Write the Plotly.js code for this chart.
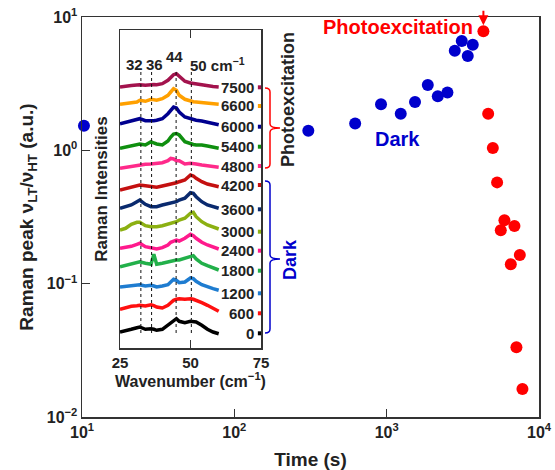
<!DOCTYPE html>
<html>
<head>
<meta charset="utf-8">
<script src="https://cdn.plot.ly/plotly-3.0.1.min.js"></script>
<style>
html,body{margin:0;padding:0;background:#fff;}
#chart{width:555px;height:470px;}
</style>
</head>
<body>
<div id="chart"></div>
<script>
// ---------- main plot data ----------
const darkTime  = [10.3, 306, 621, 918, 1237, 1535, 1862, 2166, 2506, 2800, 3112, 3406, 3675];
const darkRatio = [1.53, 1.40, 1.59, 2.22, 1.88, 2.30, 3.09, 2.54, 2.72, 5.59, 6.61, 5.10, 6.20];
const photoTime  = [4315, 4638, 4977, 5309, 5611, 5930, 6530, 6900, 7110, 7482, 7785];
const photoRatio = [7.81, 1.88, 1.04, 0.575, 0.252, 0.299, 0.140, 0.271, 0.0333, 0.164, 0.0162];

const xTickVals = [10, 100, 1000, 10000];
const xTickText = ['10<sup>1</sup>', '10<sup>2</sup>', '10<sup>3</sup>', '10<sup>4</sup>'];
const yTickVals = [0.01, 0.1, 1, 10];
const yTickText = ['10<sup>\u22122</sup>', '10<sup>\u22121</sup>', '10<sup>0</sup>', '10<sup>1</sup>'];

// ---------- inset data (stacked spectra, a.u.) ----------
const wavenumber = [25,27,29,31,32,34,36,37,38,40,42,43,44,45,46,48,50,51,52,54,56,58,60];
const specLabels = ['0','600','1200','1800','2400','3000','3600','4200','4800','5400','6000','6600','7500'];
const specOffsets = [14.7, 34.7, 54.7, 77.3, 97.3, 116.3, 138.7, 163, 182, 201.3, 221.3, 242, 260.7];
const spec0    = [16,17,18.7,20.3,21,18.7,19.3,18.7,17.7,18.7,22.7,25.3,27.7,29.3,26.7,25.3,26.7,26.7,26,22.7,18.7,16,14.3];
const spec600  = [38.7,40.3,41.7,42.3,42.7,42,43.3,42.3,41,40,42.7,45.3,47.7,48.7,49.3,48.7,49.3,48.7,47.7,45.3,42.7,40,36.7];
const spec1200 = [61,61.7,62.3,63,63.3,62,62.7,62,61,62,63.3,66,68.7,67.7,65.3,66,70,69.3,66.7,63.3,61,59.3,57.7];
const spec1800 = [81.3,82.7,84,85.7,86.3,84.7,83.7,93.7,83.7,84.7,86.3,87,88,88,88,89.7,91.3,92.3,89,84.7,82.3,80.3,78];
const spec2400 = [99.7,100.7,101.7,103.7,104.7,101.3,100.3,99.7,99,100.3,103,105.7,107,108,107,109.7,113.7,112.3,109.7,105.7,103,101,99];
const spec3000 = [118,119.7,123.7,125.7,125.7,122.3,121.3,121.3,121.3,122.3,123.7,124.7,125.7,126.3,128,129.7,134.7,135.7,131.3,126.3,123,121,119];
const spec3600 = [139.7,141.3,143,146.3,148,143.7,141.3,141.3,141.3,143,144,144.7,145.3,146.3,148,149.7,155.3,154.7,151.3,146.3,143,141.3,139.7];
const spec4200 = [158,159.3,160.3,162,163,162.3,161.3,161,160.7,162,163,163.7,164.7,165.3,166.3,168,173,172,169.7,166.3,164,162.7,161.3];
const spec4800 = [179.7,180.7,181.7,182.3,183,183.7,184,184.3,184.7,185.3,187.3,189.7,189,187.3,187.3,184,184.7,184.5,184,183,182.3,181.3,180.7];
const spec5400 = [199.7,201,201.7,203,204,203,206.3,205,204,203,207,211,214,214.5,213,206.3,204,203.5,203,203,202,201,199.7];
const spec6000 = [224.3,225.7,226.3,228,229.3,227.3,227,227.3,227.7,229.3,234.3,237.7,241,240,236,231,229.3,228.7,227.7,227,226,224.7,223.3];
const spec6600 = [243.7,244.5,245,246,247.7,246.7,248.7,248.2,247.7,249.3,252.7,256,259.3,257.7,252.7,248.7,246.7,246.3,246,245.5,245,244.3,243.7];
const spec7500 = [261,262,262.5,263,263.3,262.7,263.7,263.5,263.3,264.3,267.7,270.5,273.3,274.3,272,266.7,265,264.5,263.7,263,262.3,261.5,261];
const specColors = ['#000000','#ff1010','#1e7cd0','#22b04a','#ff1a8c','#8cb012','#0a2a6e','#c41010','#ff2a8a','#0f8f0f','#00008f','#ffa000','#a3134d'];
const peakLines = [32.4, 36.2, 44.9, 50.3];
const insetXTicks = [25, 50, 75];

const spectra = [spec0, spec600, spec1200, spec1800, spec2400, spec3000, spec3600, spec4200, spec4800, spec5400, spec6000, spec6600, spec7500];

// ---------- geometry helpers (pixel -> paper) ----------
const L = 82, R = 539, T = 17, B = 417;
const W = R - L, H = B - T;
const px = x => (x - L) / W;
const py = y => (B - y) / H;

const FONT = 'Liberation Sans, Arial, sans-serif';
const TXT = '#222222';

const traces = [];
traces.push({
  x: darkTime, y: darkRatio, type: 'scatter', mode: 'markers', name: 'Dark',
  marker: {color: '#0000cc', size: 12}, cliponaxis: false, xaxis: 'x', yaxis: 'y'
});
traces.push({
  x: photoTime, y: photoRatio, type: 'scatter', mode: 'markers', name: 'Photoexcitation',
  marker: {color: '#ff0000', size: 12}, cliponaxis: false, xaxis: 'x', yaxis: 'y'
});
spectra.forEach((s, i) => {
  traces.push({
    x: wavenumber, y: s, type: 'scatter', mode: 'lines', name: specLabels[i] + ' s',
    line: {color: specColors[i], width: 3.5}, xaxis: 'x2', yaxis: 'y2'
  });
});
traces.push({
  x: specOffsets.map(() => 74.6), y: specOffsets, type: 'scatter', mode: 'markers',
  marker: {symbol: 'square', size: 4, color: specColors}, xaxis: 'x2', yaxis: 'y2',
  cliponaxis: false, hoverinfo: 'skip'
});

function brace(x0, xm, xt, yTop, yTip, yBot) {
  const r = 4;
  const pts = [
    `M ${px(x0)},${py(yTop)}`,
    `Q ${px(xm)},${py(yTop)} ${px(xm)},${py(yTop + r)}`,
    `L ${px(xm)},${py(yTip - r)}`,
    `Q ${px(xm)},${py(yTip)} ${px(xt)},${py(yTip)}`,
    `Q ${px(xm)},${py(yTip)} ${px(xm)},${py(yTip + r)}`,
    `L ${px(xm)},${py(yBot - r)}`,
    `Q ${px(xm)},${py(yBot)} ${px(x0)},${py(yBot)}`
  ];
  return pts.join(' ');
}

const shapes = [];
peakLines.forEach(w => {
  shapes.push({type: 'line', xref: 'x2', yref: 'y2', x0: w, x1: w, y0: 15, y1: 278,
    line: {color: '#111', width: 1, dash: 'dot'}});
});
shapes.push({type: 'path', xref: 'paper', yref: 'paper', path: brace(265, 270, 280, 88, 128, 168),
  line: {color: '#ff0000', width: 1.5}});
shapes.push({type: 'path', xref: 'paper', yref: 'paper', path: brace(265, 270, 280, 181, 259, 333),
  line: {color: '#0000cc', width: 1.5}});

const annotations = [];
specLabels.forEach((lab, i) => {
  annotations.push({xref: 'x2', yref: 'y2', x: 73.1, y: specOffsets[i], text: lab,
    showarrow: false, xanchor: 'right', yanchor: 'middle',
    font: {family: FONT, size: 15, color: TXT, weight: 'bold'}});
});
const peakLab = [
  {t: '32', x: 30.1, y: 283, a: 'center'},
  {t: '36', x: 37.2, y: 283, a: 'center'},
  {t: '44', x: 44.2, y: 291, a: 'center'},
  {t: '50 cm<sup>\u22121</sup>', x: 49.2, y: 283, a: 'left'}
];
peakLab.forEach(p => {
  annotations.push({xref: 'x2', yref: 'y2', x: p.x, y: p.y, text: p.t, showarrow: false,
    xanchor: p.a, yanchor: 'middle', font: {family: FONT, size: 15, color: TXT, weight: 'bold'}});
});
const mid = {xanchor: 'center', yanchor: 'middle', showarrow: false, xref: 'paper', yref: 'paper'};
annotations.push(Object.assign({x: px(288), y: py(100), text: 'Photoexcitation', textangle: -90,
  font: {family: FONT, size: 18, color: TXT, weight: 'bold'}}, mid));
annotations.push(Object.assign({x: px(290), y: py(260), text: 'Dark', textangle: -90,
  font: {family: FONT, size: 18, color: '#0000cc', weight: 'bold'}}, mid));
annotations.push(Object.assign({x: px(397.5), y: py(139), text: 'Dark',
  font: {family: FONT, size: 20, color: '#0000cc', weight: 'bold'}}, mid));
annotations.push(Object.assign({x: px(398), y: py(26.5), text: 'Photoexcitation',
  font: {family: FONT, size: 20, color: '#ff0000', weight: 'bold'}}, mid));
annotations.push({xref: 'x', yref: 'y', x: Math.log10(photoTime[0]), y: Math.log10(photoRatio[0]),
  text: '', showarrow: true, ax: 0, ay: -22, standoff: 6, arrowhead: 2, arrowsize: 1,
  arrowwidth: 2, arrowcolor: '#ff0000'});

const layout = {
  width: 555, height: 470,
  margin: {l: L, r: 555 - R, t: T, b: 470 - B},
  paper_bgcolor: '#fff', plot_bgcolor: '#fff',
  showlegend: false,
  font: {family: FONT, color: TXT},
  xaxis: {
    type: 'log', range: [1, 4], tickvals: xTickVals, ticktext: xTickText,
    ticks: 'inside', ticklen: 8, tickwidth: 1, tickcolor: '#333',
    showline: true, linecolor: '#333', linewidth: 1.5, mirror: true,
    showgrid: false, zeroline: false,
    tickfont: {family: FONT, size: 16, color: TXT, weight: 'bold'},
    title: {text: 'Time (s)', standoff: 14, font: {family: FONT, size: 19, color: TXT, weight: 'bold'}},
    automargin: false
  },
  yaxis: {
    type: 'log', range: [-2, 1], tickvals: yTickVals, ticktext: yTickText,
    ticks: 'inside', ticklen: 8, tickwidth: 1, tickcolor: '#333',
    showline: true, linecolor: '#333', linewidth: 1.5, mirror: true,
    showgrid: false, zeroline: false,
    tickfont: {family: FONT, size: 16, color: TXT, weight: 'bold'},
    title: {text: 'Raman peak \u03bd<sub>LT</sub>/\u03bd<sub>HT</sub> (a.u.)', standoff: 8,
      font: {family: FONT, size: 19, color: TXT, weight: 'bold'}},
    automargin: false
  },
  xaxis2: {
    domain: [px(120), px(261)], anchor: 'y2', range: [25, 75], tickvals: insetXTicks,
    ticks: 'inside', ticklen: 8, tickwidth: 1, tickcolor: '#333',
    showline: true, linecolor: '#333', linewidth: 1.5, mirror: 'ticks',
    showgrid: false, zeroline: false,
    tickfont: {family: FONT, size: 15, color: TXT, weight: 'bold'},
    title: {text: 'Wavenumber (cm<sup>\u22121</sup>)', standoff: 6,
      font: {family: FONT, size: 16, color: TXT, weight: 'bold'}},
    automargin: false
  },
  yaxis2: {
    domain: [py(348), py(30)], anchor: 'x2', range: [0, 318],
    showticklabels: false, ticks: '',
    showline: true, linecolor: '#333', linewidth: 1.5, mirror: true,
    showgrid: false, zeroline: false,
    title: {text: 'Raman Intensities', standoff: 6,
      font: {family: FONT, size: 17, color: TXT, weight: 'bold'}},
    automargin: false
  },
  shapes: shapes,
  annotations: annotations
};

Plotly.newPlot('chart', traces, layout, {displayModeBar: false, staticPlot: true});
</script>
</body>
</html>
